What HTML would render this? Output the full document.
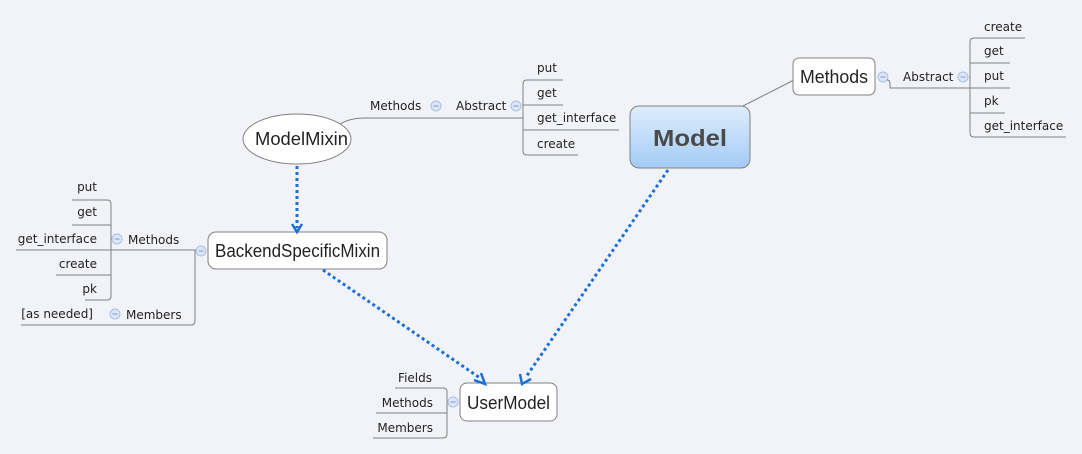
<!DOCTYPE html>
<html><head><meta charset="utf-8"><style>
html,body{margin:0;padding:0;background:#f2f3f8;}
svg{display:block;font-family:"DejaVu Sans","Liberation Sans",sans-serif;}
.t{font-size:12px;fill:#222;}
.big{font-size:18px;fill:#222;font-family:"Liberation Sans",sans-serif;}
.ln{stroke:#808080;stroke-width:1;fill:none;}
.dot{stroke:#1a6fd8;stroke-width:3;stroke-dasharray:3 3;fill:none;}
.arr{stroke:#1a6fd8;stroke-width:2.5;fill:none;}
</style></head><body>
<svg width="1082" height="454" viewBox="0 0 1082 454">
<defs>
<linearGradient id="g" x1="0" y1="0" x2="0" y2="1">
<stop offset="0" stop-color="#dfedfc"/><stop offset="1" stop-color="#a3cbf7"/></linearGradient>
<g id="minus"><circle r="5" fill="#dce6f7" stroke="#a9bfe6"/><line x1="-2.5" y1="0" x2="2.5" y2="0" stroke="#7d9ad6"/></g>
</defs>

<!-- ModelMixin -->
<path class="ln" d="M340,124 Q350,118 365,118 L523,118"/>
<ellipse cx="297" cy="139" rx="54" ry="25" fill="#fff" stroke="#808080"/>
<text class="big" x="255" y="145" textLength="93" lengthAdjust="spacingAndGlyphs">ModelMixin</text>
<text class="t" x="370" y="110">Methods</text>
<use href="#minus" x="436" y="106"/>
<text class="t" x="456" y="110">Abstract</text>
<use href="#minus" x="516" y="106"/>
<path class="ln" d="M563,80 L527,80 Q523,80 523,84 L523,151 Q523,155 527,155 L578,155"/>
<path class="ln" d="M523,105 L563,105 M523,130 L619,130"/>
<text class="t" x="537" y="72">put</text>
<text class="t" x="537" y="97">get</text>
<text class="t" x="537" y="122">get_interface</text>
<text class="t" x="537" y="148">create</text>

<!-- Model -->
<line class="ln" x1="743" y1="106" x2="794" y2="80"/>
<rect x="630" y="106" width="120" height="62" rx="9" fill="url(#g)" stroke="#808080"/>
<text x="653" y="146" textLength="74" lengthAdjust="spacingAndGlyphs" style="font-family:'Liberation Sans',sans-serif;font-size:23px;font-weight:bold;fill:#4a4a4a">Model</text>

<!-- Methods right -->
<rect x="793" y="58" width="82" height="37" rx="6" fill="#fff" stroke="#808080"/>
<text class="big" x="800" y="83" textLength="68" lengthAdjust="spacingAndGlyphs">Methods</text>
<use href="#minus" x="883" y="77"/>
<path class="ln" d="M887,80 Q890,80 890,84 L890,88 L970,88"/>
<text class="t" x="903" y="81">Abstract</text>
<use href="#minus" x="963" y="77"/>
<path class="ln" d="M1025,38 L974,38 Q970,38 970,42 L970,133 Q970,137 974,137 L1066,137"/>
<path class="ln" d="M970,63 L1010,63 M970,88 L1010,88 M970,113 L1005,113"/>
<text class="t" x="984" y="31">create</text>
<text class="t" x="984" y="55">get</text>
<text class="t" x="984" y="80">put</text>
<text class="t" x="984" y="105">pk</text>
<text class="t" x="984" y="130">get_interface</text>

<!-- BackendSpecificMixin -->
<rect x="208" y="232" width="179" height="37" rx="8" fill="#fff" stroke="#808080"/>
<text class="big" x="215" y="257" textLength="165" lengthAdjust="spacingAndGlyphs">BackendSpecificMixin</text>
<use href="#minus" x="201" y="251"/>
<path class="ln" d="M16,250 L195,250 M196,250 L195,250 L195,321 Q195,325 191,325 L21,325"/>
<path class="ln" d="M72,200 L107,200 Q111,200 111,204 L111,296 Q111,300 107,300 L85,300"/>
<path class="ln" d="M72,225 L111,225 M56,275 L111,275"/>
<text class="t" x="97" y="191" text-anchor="end">put</text>
<text class="t" x="97" y="216" text-anchor="end">get</text>
<text class="t" x="97" y="243" text-anchor="end">get_interface</text>
<text class="t" x="97" y="268" text-anchor="end">create</text>
<text class="t" x="97" y="293" text-anchor="end">pk</text>
<use href="#minus" x="117" y="239"/>
<text class="t" x="128" y="244">Methods</text>
<text class="t" x="93" y="318" text-anchor="end">[as needed]</text>
<use href="#minus" x="115" y="314"/>
<text class="t" x="126" y="319">Members</text>

<!-- UserModel -->
<rect x="460" y="383" width="97" height="38" rx="7" fill="#fff" stroke="#808080"/>
<text class="big" x="467" y="409" textLength="83" lengthAdjust="spacingAndGlyphs">UserModel</text>
<use href="#minus" x="453" y="402"/>
<path class="ln" d="M395,388 L443,388 Q447,388 447,392 L447,434 Q447,438 443,438 L373,438"/>
<path class="ln" d="M376,413 L447,413"/>
<text class="t" x="432" y="382" text-anchor="end">Fields</text>
<text class="t" x="433" y="407" text-anchor="end">Methods</text>
<text class="t" x="433" y="432" text-anchor="end">Members</text>

<!-- dotted connectors -->
<line class="dot" x1="297" y1="166" x2="297" y2="228"/>
<path class="arr" d="M292,224 L297,232 L302,224"/>
<line class="dot" x1="323" y1="270" x2="480" y2="378"/>
<path class="arr" d="M474,380 L485,384 L481,373"/>
<line class="dot" x1="668" y1="170" x2="526" y2="377"/>
<path class="arr" d="M520,374 L522,384 L531,379"/>
</svg>
</body></html>
